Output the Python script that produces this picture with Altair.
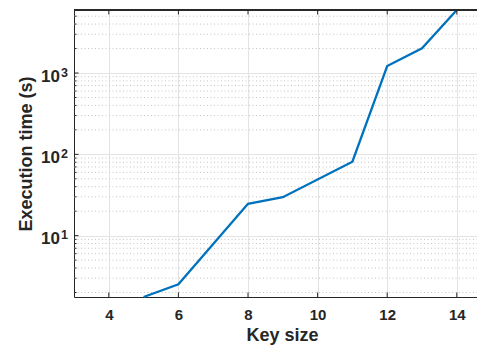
import altair as alt
import pandas as pd

# Data
key_size = [5, 6, 8, 9, 11, 12, 13, 14]
exec_time = [1.76, 2.52, 24.6, 29.7, 81.3, 1220, 2010, 5960]

x_ticks = [4, 6, 8, 10, 12, 14]
y_major = [10, 100, 1000]
y_exp = ["1", "2", "3"]
y_minor = [m * d for d in [1, 10, 100, 1000] for m in range(2, 10) if 1.76 <= m * d <= 5960]

W, H = 403, 287
X_DOMAIN = [3, 3 + W / 34.8]
Y_DOMAIN = [1.76, 5960]
FONT = "Liberation Sans"
AX = "#262626"

df = pd.DataFrame({"k": key_size, "t": exec_time})
major_df = pd.DataFrame({"v": y_major, "e": y_exp})
minor_df = pd.DataFrame({"v": y_minor})
xt_df = pd.DataFrame({"x": x_ticks})

xs = alt.Scale(domain=X_DOMAIN, nice=False, zero=False)
ys = alt.Scale(type="log", domain=Y_DOMAIN, nice=False)

x_axis = alt.Axis(
    values=x_ticks, grid=True, gridColor="#e3e3e3", gridWidth=1,
    ticks=False, domain=True, domainColor=AX, domainWidth=1,
    labelFont=FONT, labelFontSize=15, labelFontWeight="bold", labelColor=AX,
    labelPadding=10, title="Key size", titleFont=FONT, titleFontSize=18,
    titleFontWeight="bold", titleColor=AX, titleX=208, titleY=38,
    titleBaseline="middle",
)
y_axis = alt.Axis(
    values=y_major, grid=True, gridColor="#e3e3e3", gridWidth=1,
    ticks=False, labels=False, domain=True, domainColor=AX, domainWidth=1,
    title="Execution time (s)", titleFont=FONT, titleFontSize=18,
    titleFontWeight="bold", titleColor=AX, titleX=-48, titleY=H / 2,
    titleAngle=270, titleBaseline="middle", titleAlign="center",
)

minor_grid = alt.Chart(minor_df).mark_rule(
    color="#c4c4c4", strokeWidth=1, strokeDash=[1, 2.5]
).encode(y=alt.Y("v:Q", scale=ys), x=alt.value(0), x2=alt.value(W))

line = alt.Chart(df).mark_line(color="#0072BD", strokeWidth=2.3).encode(
    x=alt.X("k:Q", scale=xs, axis=x_axis),
    y=alt.Y("t:Q", scale=ys, axis=y_axis),
)

top_border = alt.Chart(xt_df).mark_rule(color=AX, strokeWidth=1).encode(
    x=alt.value(0), x2=alt.value(W), y=alt.value(0)
)

bottom_ticks = alt.Chart(xt_df).mark_rule(color=AX, strokeWidth=1).encode(
    x=alt.X("x:Q", scale=xs), y=alt.value(H), y2=alt.value(H - 4.5)
)
top_ticks = alt.Chart(xt_df).mark_rule(color=AX, strokeWidth=1).encode(
    x=alt.X("x:Q", scale=xs), y=alt.value(0), y2=alt.value(4.5)
)
left_major_ticks = alt.Chart(major_df).mark_rule(color=AX, strokeWidth=1).encode(
    y=alt.Y("v:Q", scale=ys), x=alt.value(0), x2=alt.value(4.5)
)
left_minor_ticks = alt.Chart(minor_df).mark_rule(color=AX, strokeWidth=1).encode(
    y=alt.Y("v:Q", scale=ys), x=alt.value(0), x2=alt.value(2.5)
)

ylab_base = alt.Chart(major_df).mark_text(
    text="10", align="right", baseline="alphabetic", dy=8.5,
    font=FONT, fontSize=17, fontWeight="bold", color=AX,
).encode(y=alt.Y("v:Q", scale=ys), x=alt.value(-14))
ylab_exp = alt.Chart(major_df).mark_text(
    align="left", baseline="alphabetic", dy=3.7,
    font=FONT, fontSize=12.5, fontWeight="bold", color=AX,
).encode(y=alt.Y("v:Q", scale=ys), x=alt.value(-13), text="e:N")

chart = alt.layer(
    minor_grid, line, top_border, bottom_ticks, top_ticks,
    left_major_ticks, left_minor_ticks, ylab_base, ylab_exp,
).properties(
    width=W, height=H,
    autosize=alt.AutoSizeParams(type="none"),
    padding={"left": 66, "top": 2, "right": 0, "bottom": 50},
).configure_view(stroke=None).configure(background="white")

chart.save("out.html", embed_options={"renderer": "svg", "actions": False})
